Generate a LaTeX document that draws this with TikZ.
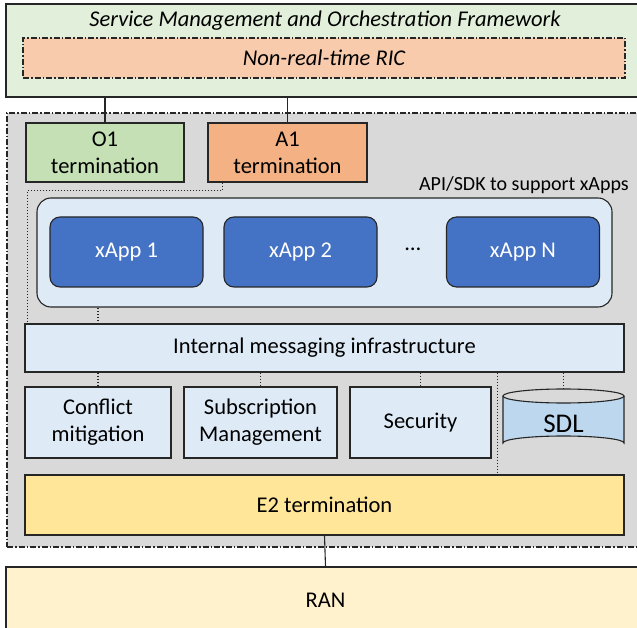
\documentclass[tikz,border=0pt]{standalone}
\usepackage{fontspec}
\setmainfont{Carlito}
\definecolor{smoC}{HTML}{E2EFDA}
\definecolor{nrtC}{HTML}{F8CBAD}
\definecolor{grayC}{HTML}{D9D9D9}
\definecolor{o1C}{HTML}{C5E0B4}
\definecolor{a1C}{HTML}{F4B183}
\definecolor{lbC}{HTML}{DEEBF7}
\definecolor{xappC}{HTML}{4472C4}
\definecolor{sdlC}{HTML}{BDD7EE}
\definecolor{e2C}{HTML}{FFE699}
\definecolor{ranC}{HTML}{FFF2CC}
\definecolor{lineC}{HTML}{262626}
\tikzset{
  box/.style={draw=lineC, line width=1.1pt, rectangle, inner sep=0pt, align=center, font=\fontsize{22.5}{27}\selectfont},
  dashdot/.style={dash pattern=on 6pt off 2pt on 1.5pt off 2pt},
  dots/.style={draw=lineC, line width=1.5pt, dash pattern=on 1.5pt off 1.5pt},
  conn/.style={draw=lineC, line width=1.1pt},
  xapp/.style={box, fill=xappC, rounded corners=10pt, text=white, minimum width=153pt, minimum height=70pt},
  lbbox/.style={box, fill=lbC, minimum height=71pt}
}
\begin{document}
\begin{tikzpicture}[x=1pt,y=-1pt]
\useasboundingbox (0,0) rectangle (637,628);
\clip (0,0) rectangle (637,628);
% SMO
\node[box, fill=smoC, minimum width=639pt, minimum height=93pt] (smo) at (325.5,50.5) {};
\node[font=\fontsize{22.5}{27}\selectfont\itshape, inner sep=0pt] (smotitle) at (325,21) {Service Management and Orchestration Framework};
\node[box, dashdot, fill=nrtC, minimum width=602pt, minimum height=40pt, font=\fontsize{22.5}{27}\selectfont\itshape] (nrt) at (324,58) {Non-real-time RIC};
% near-RT RIC region
\node[box, dashdot, fill=grayC, minimum width=638pt, minimum height=434pt] (ric) at (326,330) {};
% O1 / A1
\node[box, fill=o1C, minimum width=158pt, minimum height=59pt] (o1) at (105,152.5) {O1\\termination};
\node[box, fill=a1C, minimum width=159pt, minimum height=59pt] (a1) at (287.5,152.5) {A1\\termination};
\draw[conn] (o1.north) -- (o1.north |- smo.south);
\draw[conn] (a1.north) -- (a1.north |- smo.south);
% API container
\node[font=\fontsize{20}{24}\selectfont, inner sep=0pt, anchor=east] (api) at (629,185) {API/SDK to support xApps};
\node[box, fill=lbC, rounded corners=14pt, minimum width=575pt, minimum height=109pt] (cont) at (324.5,252.5) {};
\node[xapp] (x1) at (126.5,252) {xApp 1};
\node[xapp] (x2) at (300.5,252) {xApp 2};
\node[font=\fontsize{22.5}{27}\selectfont, inner sep=0pt] (ell) at (413,249) {…};
\node[xapp] (xn) at (523,252) {xApp N};
% messaging
\node[box, fill=lbC, minimum width=599pt, minimum height=48pt] (msg) at (324.5,348) {Internal messaging infrastructure};
% functions
\node[lbbox, minimum width=146pt] (conf) at (98,422.5) {Conflict\\mitigation};
\node[lbbox, minimum width=153pt] (sub) at (260.5,422.5) {Subscription\\Management};
\node[lbbox, minimum width=141pt] (sec) at (420.5,422.5) {Security};
% SDL cylinder
\fill[sdlC] (503,396) -- (503,443) arc[start angle=180, end angle=360, x radius=60.5, y radius=7] -- (624,396) arc[start angle=0, end angle=180, x radius=60.5, y radius=7] -- cycle;
\draw[conn] (503,396) -- (503,443) arc[start angle=180, end angle=360, x radius=60.5, y radius=7] -- (624,396);
\draw[conn] (563.5,396) ellipse[x radius=60.5, y radius=7];
\coordinate (sdltop) at (563.5,389);
\node[font=\fontsize{27}{30}\selectfont, inner sep=0pt] (sdl) at (563.5,424) {SDL};
% E2
\node[box, fill=e2C, minimum width=599pt, minimum height=60pt] (e2) at (324.5,505) {E2 termination};
% RAN
\node[box, fill=ranC, minimum width=639pt, minimum height=66pt] (ran) at (325.5,600) {RAN};
\draw[conn] (e2.south) -- (ran.north);
% dotted connectors
\draw[dots] ([xshift=15pt]a1.south west) -- ++(0,8) -| ([xshift=3pt]msg.north west);
\draw[dots] (cont.south -| conf.north) -- (msg.north -| conf.north);
\draw[dots] (msg.south -| conf.north) -- (conf.north);
\draw[dots] (msg.south -| sub.north) -- (sub.north);
\draw[dots] (msg.south -| sec.north) -- (sec.north);
\draw[dots] (msg.south -| sdltop) -- (sdltop);
\draw[dots] ([xshift=6pt]sec.east |- msg.south) -- ([xshift=6pt]sec.east |- e2.north);
\end{tikzpicture}
\end{document}
